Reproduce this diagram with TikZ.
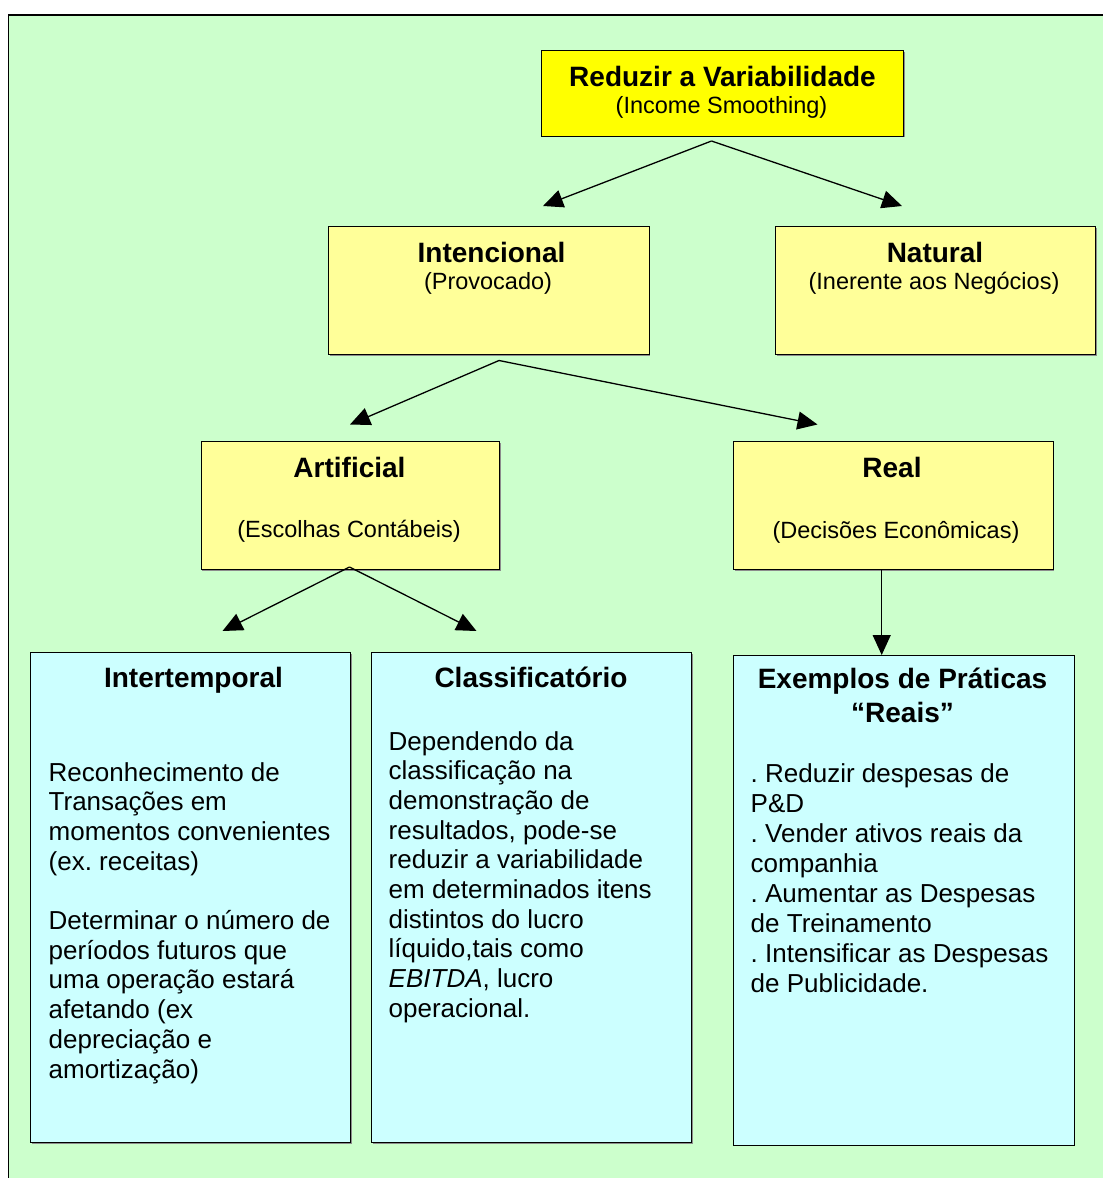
\documentclass[tikz,border=0pt]{standalone}
\usepackage{fontspec}
\setmainfont{Liberation Sans}
\usetikzlibrary{arrows.meta,shadows}
\frenchspacing
\definecolor{bggreen}{HTML}{CCFFCC}
\definecolor{topyellow}{HTML}{FFFF00}
\definecolor{lightyellow}{HTML}{FFFF99}
\definecolor{lightcyan}{HTML}{CCFFFF}
\newcommand{\hdfont}{\fontsize{28pt}{34pt}\selectfont\bfseries}
\newcommand{\subfont}{\fontsize{23.5pt}{28pt}\selectfont}
\newcommand{\bdfont}{\fontsize{26pt}{29.7pt}\selectfont}
\begin{document}
\begin{tikzpicture}[x=1pt,y=-1pt,
  box/.style={draw=black, line width=1.3pt, rectangle, inner sep=0pt, anchor=north west,
    drop shadow={shadow xshift=1.3pt, shadow yshift=-1.3pt, fill=black!45, opacity=1}},
  ttl/.style={anchor=base, inner sep=0pt, font=\hdfont},
  sub/.style={anchor=base, inner sep=0pt, font=\subfont},
  body/.style={anchor=base west, inner sep=0pt},
  conn/.style={line width=1.3pt, -{Triangle[length=20pt,width=18pt]}}]
\useasboundingbox (0,0) rectangle (1103,1178);
\fill[white] (0,0) rectangle (1103,1178);
\fill[bggreen] (8.4,15) rectangle (1103,1178);
\draw[line width=1.3pt] (8.4,1178) -- (8.4,15) -- (1103,15);

% boxes
\node[box, fill=topyellow, minimum width=362pt, minimum height=85.5pt] (reduzir) at (541,50) {};
\node[box, fill=lightyellow, minimum width=320.5pt, minimum height=128pt] (intenc) at (328,226) {};
\node[box, fill=lightyellow, minimum width=320pt, minimum height=128pt] (natural) at (775,226) {};
\node[box, fill=lightyellow, minimum width=298.5pt, minimum height=128pt] (artif) at (200.5,441) {};
\node[box, fill=lightyellow, minimum width=319.5pt, minimum height=128pt] (real) at (733,441) {};
\node[box, fill=lightcyan, minimum width=320pt, minimum height=490pt] (intertemp) at (30,652) {};
\node[box, fill=lightcyan, minimum width=320pt, minimum height=490pt] (classif) at (371,652) {};
\node[box, fill=lightcyan, minimum width=340.5pt, minimum height=489.5pt] (exemplos) at (733,655) {};

% texts
\node[ttl] (reduzirT) at (722.5,86) {Reduzir a Variabilidade};
\node[sub] (reduzirS) at (721.5,113) {(Income Smoothing)};
\node[ttl] (intencT) at (491.5,262) {Intencional};
\node[sub] (intencS) at (488,289) {(Provocado)};
\node[ttl] (naturalT) at (935,262) {Natural};
\node[sub] (naturalS) at (934,289) {(Inerente aos Negócios)};
\node[ttl] (artifT) at (349.5,477) {Artificial};
\node[sub] (artifS) at (349,537.5) {(Escolhas Contábeis)};
\node[ttl] (realT) at (892,477.5) {Real};
\node[sub] (realS) at (896,538) {(Decisões Econômicas)};
\node[ttl] (intertempT) at (193.5,687) {Intertemporal};
\node[ttl] (classifT) at (531,687) {Classificatório};
\node[anchor=base, inner sep=0pt] (exemplosT) at (902.5,688)
  {\parbox[t]{340pt}{\centering\hdfont Exemplos de Práticas\\“Reais”}};

\node[body] (intertempB) at (48.5,781) {\parbox[t]{400pt}{\raggedright\bdfont
  Reconhecimento de\\
  Transações em\\
  momentos convenientes\\
  (ex. receitas)\\[29.7pt]
  Determinar o número de\\
  períodos futuros que\\
  uma operação estará\\
  afetando (ex\\
  depreciação e\\
  amortização)}};

\node[body] (classifB) at (388.5,750) {\parbox[t]{400pt}{\raggedright\bdfont
  Dependendo da\\
  classificação na\\
  demonstração de\\
  resultados, pode-se\\
  reduzir a variabilidade\\
  em determinados itens\\
  distintos do lucro\\
  líquido,tais como\\
  \textit{EBITDA}, lucro\\
  operacional.}};

\node[body] (exemplosB) at (750.5,782) {\parbox[t]{400pt}{\raggedright\fontsize{26pt}{30pt}\selectfont
  . Reduzir despesas de\\
  P\&D\\
  . Vender ativos reais da\\
  companhia\\
  . Aumentar as Despesas\\
  de Treinamento\\
  . Intensificar as Despesas\\
  de Publicidade.}};

% connectors
\coordinate (s1) at (711.5,141);
\coordinate (e1) at (543,206);
\coordinate (e2) at (902,206);
\coordinate (s2) at (499,360.5);
\coordinate (e3) at (350,424.5);
\coordinate (e4) at (817.5,424.5);
\coordinate (s3) at (349.5,567);
\coordinate (e5) at (222.5,631);
\coordinate (e6) at (476.5,631);
\draw[conn] (s1) -- (e1);
\draw[conn] (s1) -- (e2);
\draw[conn] (s2) -- (e3);
\draw[conn] (s2) -- (e4);
\draw[conn] (s3) -- (e5);
\draw[conn] (s3) -- (e6);
\draw[conn] (real.south -| 881.7,0) -- (exemplos.north -| 881.7,0);
\end{tikzpicture}
\end{document}
